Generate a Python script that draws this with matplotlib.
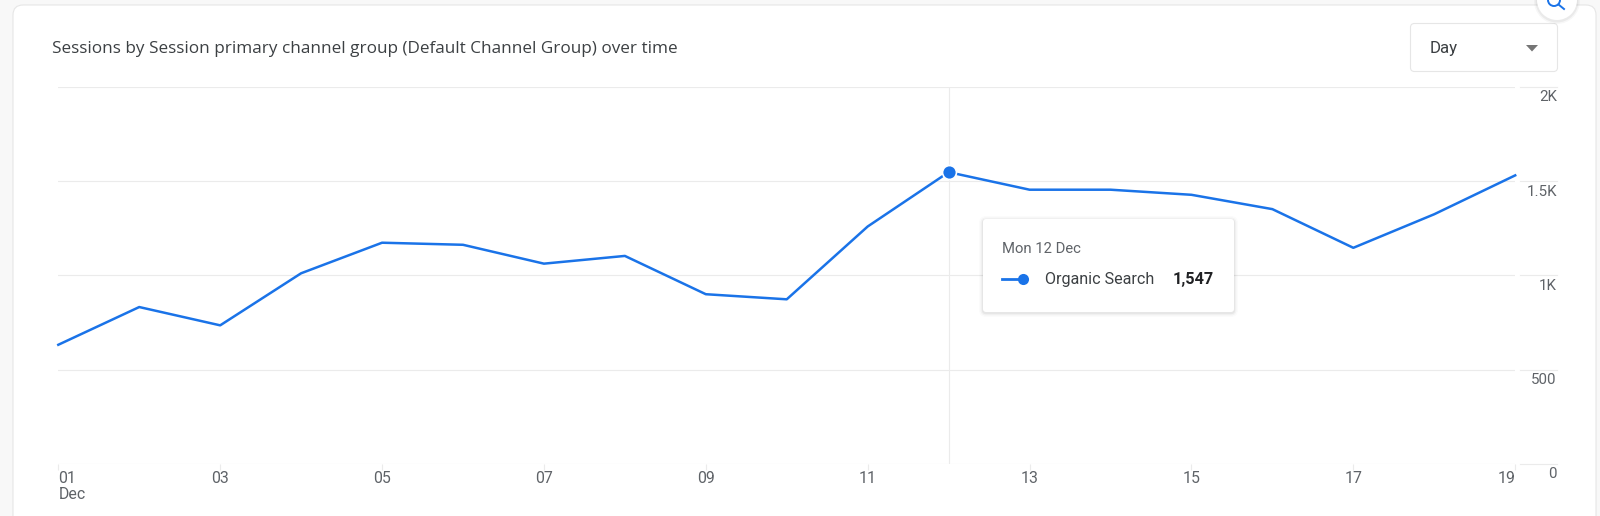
import matplotlib
matplotlib.use("Agg")
import matplotlib.pyplot as plt
from matplotlib.patches import FancyBboxPatch, Circle, Polygon
from matplotlib.lines import Line2D
from matplotlib.transforms import blended_transform_factory, ScaledTranslation

plt.rcParams['font.family'] = ['Roboto', 'DejaVu Sans']

# data
days = list(range(1, 20))
sessions = [632, 832, 735, 1011, 1173, 1162, 1062, 1103, 900, 873,
            1259, 1547, 1454, 1454, 1427, 1351, 1146, 1324, 1530]
x_ticks = [1, 3, 5, 7, 9, 11, 13, 15, 17, 19]
x_labels = ["01\nDec", "03", "05", "07", "09", "11", "13", "15", "17", "19"]
y_ticks = [0, 500, 1000, 1500, 2000]
y_labels = ["0", "500", "1K", "1.5K", "2K"]
title = "Sessions by Session primary channel group (Default Channel Group) over time"
hover_day = 12
tooltip_date = "Mon 12 Dec"
tooltip_series = "Organic Search"
tooltip_value = "1,547"

W, H = 1600, 516
BLUE = "#1a73e8"
GRID = "#ebebeb"
TEXT = "#5f6368"
DARK = "#3c4043"

fig = plt.figure(figsize=(W / 100, H / 100), dpi=100, facecolor="#f8f8f8")


def pixel_axes(zorder):
    a = fig.add_axes([0, 0, 1, 1], zorder=zorder)
    a.set_xlim(0, W)
    a.set_ylim(H, 0)
    a.axis("off")
    a.patch.set_alpha(0)
    return a


def rbox(a, x0, y0, x1, y1, r, **kw):
    p = FancyBboxPatch((x0, y0), x1 - x0, y1 - y0,
                       boxstyle=f"round,pad=0,rounding_size={r}", **kw)
    a.add_patch(p)
    return p


# card behind the chart
back = pixel_axes(0)
rbox(back, 13, 5, 1596, 560, 10, fc="white", ec="#e6e6e6", lw=0.8)
back.text(52, 49, title, fontsize=12.3, color=DARK, va="center", ha="left",
          family=["Open Sans", "DejaVu Sans"])

# dropdown
rbox(back, 1410.5, 23.5, 1557.5, 71.5, 4, fc="white", ec="#e6e6e6", lw=0.8)
back.text(1430, 48.5, "Day", fontsize=12.2, color=DARK, va="center", ha="left")
back.add_patch(Polygon([(1526, 45), (1538, 45), (1532, 51.5)], closed=True, fc="#757575", ec="none"))

# main chart
left, right = 58.3, 1515.2
top, bottom = 86.7, 464
ax = fig.add_axes([left / W, 1 - bottom / H, (right - left) / W, (bottom - top) / H], zorder=1)
ax.patch.set_alpha(0)
ax.set_xlim(1, 19)
ax.set_ylim(0, 2000)
for s in ax.spines.values():
    s.set_visible(False)

ax.set_yticks(y_ticks)
ax.set_yticklabels(y_labels)
ax.yaxis.tick_right()
ax.tick_params(axis="y", length=0, pad=30, labelsize=10.9, labelcolor=TEXT)
nudge = ScaledTranslation(0, -3.5 / 100, fig.dpi_scale_trans)
for lab in ax.get_yticklabels():
    lab.set_ha("right")
    lab.set_va("top")
    lab.set_transform(lab.get_transform() + nudge)
ax.grid(axis="y", color=GRID, lw=0.8)
ax.set_axisbelow(True)

ax.set_xticks(x_ticks)
ax.set_xticklabels(x_labels, linespacing=1.12)
ax.tick_params(axis="x", length=4, width=0.8, color=GRID, pad=1, labelsize=11.4, labelcolor=TEXT)
for i, lab in enumerate(ax.get_xticklabels()):
    if i == 0:
        lab.set_ha("left")
    elif i == len(x_ticks) - 1:
        lab.set_ha("right")

# hover crosshair
ax.axvline(hover_day, color=GRID, lw=0.8, zorder=1)

ax.plot(days, sessions, color=BLUE, lw=1.8, clip_on=False, zorder=3, solid_joinstyle="round")
ax.plot([hover_day], [sessions[days.index(hover_day)]], "o", color=BLUE, ms=10,
        mec="white", mew=1.2, zorder=4, clip_on=False)

# short grid stubs beside the value labels
stub = blended_transform_factory(back.transData, ax.transData)
for v in y_ticks:
    back.add_line(Line2D([1520, 1557], [v, v], transform=stub, color=GRID, lw=0.8))

# tooltip and search button
front = pixel_axes(2)
for grow, alpha in [(4, 0.015), (2.5, 0.03), (1.2, 0.05)]:
    rbox(front, 983 - grow, 219 - grow + 1, 1234 + grow, 312 + grow + 1, 3 + grow,
         fc="black", ec="none", alpha=alpha)
rbox(front, 983, 219, 1234, 312, 3, fc="white", ec="none")
front.text(1002, 249, tooltip_date, fontsize=10.7, color=TEXT, va="center", ha="left")
front.add_line(Line2D([1002, 1018], [279, 279], color=BLUE, lw=2))
front.add_line(Line2D([1023], [279], marker="o", ms=8, color=BLUE, mew=0))
front.text(1045, 279.5, tooltip_series, fontsize=11.6, color=DARK, va="center", ha="left")
front.text(1214, 279.5, tooltip_value, fontsize=11.7, color="#202124", va="center", ha="right", weight="bold")

for grow, alpha in [(3, 0.03), (1.5, 0.05)]:
    front.add_patch(Circle((1557, 1), 20 + grow, fc="black", ec="none", alpha=alpha))
front.add_patch(Circle((1557, 0), 20, fc="white", ec="none"))
front.add_patch(Circle((1554, 0), 6, fc="none", ec=BLUE, lw=1.4))
front.add_line(Line2D([1558.5, 1564], [4.5, 9], color=BLUE, lw=1.4))

fig.savefig("out.png", dpi=100, facecolor=fig.get_facecolor())
